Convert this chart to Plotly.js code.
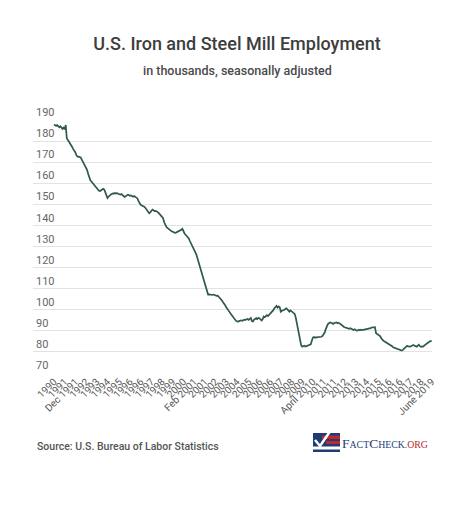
<!DOCTYPE html>
<html>
<head>
<meta charset="utf-8">
<script src="https://cdn.plot.ly/plotly-3.0.1.min.js"></script>
<style>html,body{margin:0;padding:0;background:#fff;}#chart{width:474px;height:513px;}</style>
</head>
<body>
<div id="chart"></div>
<script>
// Monthly employment, thousands, seasonally adjusted, Jan 1990 - Jun 2019
const startYear = 1990;
const employment = [
  // 1990
  187.9, 187.5, 187.2, 187.6, 186.8, 186.5, 187.0, 186.2, 185.8, 186.4, 185.6, 187.6,
  // 1991
  181.2, 180.5, 179.8, 178.8, 177.9, 177.2, 176.2, 175.5, 174.6, 173.2, 172.6, 172.6,
  // 1992
  172.4, 172.2, 171.2, 170.2, 169.5, 168.5, 167.3, 166.2, 164.4, 162.5, 161.4, 160.8,
  // 1993
  160.2, 159.4, 158.7, 158.0, 157.3, 156.8, 156.4, 156.3, 156.6, 156.9, 157.4, 157.0,
  // 1994
  155.6, 154.2, 153.0, 153.6, 154.4, 154.6, 154.9, 155.2, 155.0, 155.4, 155.1, 155.3,
  // 1995
  155.0, 154.8, 154.6, 154.9, 154.3, 154.0, 153.5, 153.8, 154.2, 154.6, 154.4, 154.0,
  // 1996
  154.2, 153.9, 153.6, 153.9, 153.4, 153.0, 152.8, 151.5, 150.2, 149.8, 149.5, 149.4,
  // 1997
  149.0, 148.6, 148.0, 147.4, 146.6, 145.8, 146.2, 147.2, 147.5, 147.2, 146.8, 146.9,
  // 1998
  146.7, 146.3, 145.8, 145.2, 144.8, 144.0, 143.4, 141.5, 140.0, 139.4, 138.8, 138.3,
  // 1999
  138.0, 137.6, 137.2, 137.0, 136.7, 136.5, 136.6, 136.8, 137.0, 137.4, 137.6, 137.9,
  // 2000
  138.4, 137.0, 136.2, 135.6, 135.0, 134.5, 133.8, 132.6, 131.6, 130.6, 129.6, 128.8,
  // 2001
  128.0, 126.3, 124.6, 122.9, 121.0, 119.2, 117.4, 115.5, 113.7, 111.8, 110.0, 108.4,
  // 2002
  107.2, 107.3, 107.1, 107.2, 107.0, 107.2, 106.9, 106.8, 106.6, 106.7, 106.2, 105.6,
  // 2003
  105.2, 104.4, 103.6, 103.0, 102.1, 101.2, 100.6, 99.8, 99.0, 98.2, 97.4, 96.8,
  // 2004
  96.0, 95.4, 94.8, 94.5, 94.3, 94.6, 94.9, 95.0, 94.8, 95.1, 95.3, 95.2,
  // 2005
  95.4, 95.6, 95.2, 95.9, 96.1, 94.6, 94.4, 95.3, 95.8, 96.0, 95.6, 96.1,
  // 2006
  96.0, 95.6, 94.9, 95.5, 96.8, 96.5, 97.1, 97.4, 97.0, 97.6, 98.0, 98.3,
  // 2007
  99.0, 99.8, 100.7, 101.3, 101.8, 101.0, 101.6, 101.2, 99.1, 99.5, 99.6, 99.9,
  // 2008
  100.2, 100.7, 100.3, 99.6, 99.1, 99.7, 99.3, 98.8, 98.6, 98.0, 96.2, 93.5,
  // 2009
  91.5, 88.6, 86.0, 83.2, 82.5, 82.7, 82.9, 82.6, 82.8, 83.0, 82.9, 83.3,
  // 2010
  83.6, 85.3, 86.8, 87.1, 86.7, 86.9, 87.0, 86.8, 87.1, 87.3, 87.2, 87.6,
  // 2011
  88.2, 89.2, 90.8, 92.4, 93.2, 93.6, 94.0, 93.8, 93.5, 93.3, 93.7, 93.9,
  // 2012
  94.0, 93.6, 93.8, 93.5, 93.2, 92.8, 92.3, 91.8, 91.6, 91.4, 91.3, 91.2,
  // 2013
  91.0, 91.2, 90.8, 90.6, 90.4, 90.7, 90.3, 90.1, 90.2, 90.5, 90.3, 90.6,
  // 2014
  90.4, 90.5, 90.7, 90.6, 90.8, 91.0, 91.2, 91.1, 91.3, 91.6, 91.7, 91.8,
  // 2015
  91.7, 88.9, 88.6, 88.3, 87.9, 87.4, 86.3, 85.6, 85.2, 84.9, 84.6, 84.4,
  // 2016
  84.2, 83.8, 83.3, 83.1, 82.7, 82.2, 82.0, 81.7, 81.3, 81.2, 81.0, 80.8,
  // 2017
  80.7, 80.6, 81.0, 81.4, 82.0, 82.6, 82.9, 82.6, 82.4, 82.5, 82.8, 83.2,
  // 2018
  83.3, 82.9, 82.6, 82.5, 83.0, 83.4, 82.7, 82.4, 82.6, 82.5, 83.0, 83.4,
  // 2019
  83.8, 84.4, 84.6, 84.9, 85.1, 85.2
];

const tickLabels = [
  "1990", "1991", "Dec 1991", "1992", "1993", "1994", "1995", "1996", "1996",
  "1997", "1998", "1999", "2000", "Feb 2001", "2001", "2002", "2003", "2004",
  "2005", "2006", "2006", "2007", "2008", "2009", "April 2010", "2011", "2011",
  "2012", "2013", "2014", "2015", "2016", "2016", "2017", "2018", "June 2019"
];

const yTicks = [70, 80, 90, 100, 110, 120, 130, 140, 150, 160, 170, 180, 190];

const monthNames = ["Jan","Feb","Mar","Apr","May","Jun","Jul","Aug","Sep","Oct","Nov","Dec"];
const months = employment.map((_, i) => monthNames[i % 12] + " " + (startYear + Math.floor(i / 12)));

const last = months.length - 1;
const tickVals = tickLabels.map((_, i) => months[Math.round(i * last / (tickLabels.length - 1))]);

// pixel -> paper helpers for decoration (titles, logo)
const L = 33, R = 42, T = 120, B = 140, W = 474, H = 513;
const pw = W - L - R, ph = H - T - B;
const px = x => (x - L) / pw;
const py = y => (H - B - y) / ph;

const trace = {
  type: "scatter",
  mode: "lines",
  x: months,
  y: employment,
  line: { color: "#2f5a45", width: 1.7 },
  hoverinfo: "x+y"
};

const shapes = [
  // flag logo
  { type: "rect", xref: "paper", yref: "paper", x0: px(313), x1: px(340), y0: py(452), y1: py(433), fillcolor: "#1f3c73", line: { width: 0 } },
  { type: "rect", xref: "paper", yref: "paper", x0: px(322), x1: px(340), y0: py(439), y1: py(435.5), fillcolor: "#c0272d", line: { width: 0 } },
  { type: "rect", xref: "paper", yref: "paper", x0: px(326), x1: px(340), y0: py(444), y1: py(441), fillcolor: "#c0272d", line: { width: 0 } },
  { type: "rect", xref: "paper", yref: "paper", x0: px(313), x1: px(340), y0: py(449.5), y1: py(446.5), fillcolor: "#ffffff", line: { width: 0 } },
  { type: "path", xref: "paper", yref: "paper",
    path: `M ${px(315)} ${py(440)} L ${px(320)} ${py(446)} L ${px(331)} ${py(430)}`,
    line: { color: "#ffffff", width: 2.5 } }
];

const layout = {
  width: W, height: H,
  margin: { l: L, r: R, t: T, b: B, pad: 0 },
  paper_bgcolor: "#ffffff",
  plot_bgcolor: "#ffffff",
  showlegend: false,
  font: { family: "Roboto, 'Open Sans', sans-serif", color: "#555" },
  title: {
    text: "U.S. Iron and Steel Mill Employment",
    font: { family: "Roboto, sans-serif", size: 18, color: "#3d3d3d", weight: 500 },
    x: 0.5, xref: "container", xanchor: "center",
    y: 1 - 44 / H, yref: "container", yanchor: "middle"
  },
  xaxis: {
    type: "category",
    range: [-(54 - L) / (378 / last), last + 0.3],
    tickmode: "array",
    tickvals: tickVals,
    ticktext: tickLabels,
    tickangle: -45,
    tickfont: { family: "Roboto, sans-serif", size: 10, color: "#555" },
    showgrid: false,
    zeroline: false,
    showline: false,
    ticks: "",
    fixedrange: true
  },
  yaxis: {
    range: [70, 190],
    tickmode: "array",
    tickvals: yTicks,
    ticktext: yTicks.map(String),
    ticklabelposition: "inside top",
    ticklabeloverflow: "allow",
    tickfont: { family: "Roboto, sans-serif", size: 11, color: "#666" },
    showgrid: true,
    gridcolor: "#e3e3e3",
    gridwidth: 1,
    zeroline: false,
    showline: false,
    ticks: "",
    fixedrange: true
  },
  shapes: shapes,
  annotations: [
    {
      xref: "paper", yref: "paper", x: px(237), y: py(70), xanchor: "center", yanchor: "middle",
      text: "in thousands, seasonally adjusted", showarrow: false,
      font: { family: "Roboto, sans-serif", size: 12.5, color: "#4a4a4a", weight: 500 }
    },
    {
      xref: "paper", yref: "paper", x: px(35), y: py(446), xanchor: "left", yanchor: "middle",
      text: "Source: U.S. Bureau of Labor Statistics", showarrow: false,
      font: { family: "Roboto, sans-serif", size: 10.5, color: "#555", weight: 500 }
    },
    {
      xref: "paper", yref: "paper", x: px(340), y: py(443), xanchor: "left", yanchor: "middle",
      text: "<span style='font-size:13.5px'>F</span>ACT<span style='font-size:13.5px'>C</span>HECK<span style='color:#b5262c'>.ORG</span>",
      showarrow: false,
      font: { family: "'Liberation Serif', 'DejaVu Serif', serif", size: 9.8, color: "#23407a" }
    }
  ]
};

Plotly.newPlot("chart", [trace], layout, { displayModeBar: false, staticPlot: true });
</script>
</body>
</html>
